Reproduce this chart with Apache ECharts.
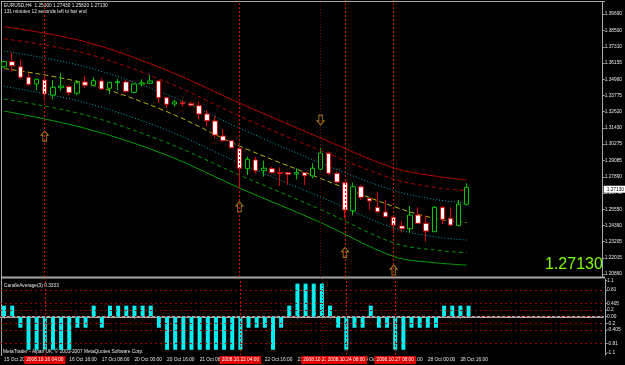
<!DOCTYPE html>
<html>
<head>
<meta charset="utf-8">
<style>
html, body { margin: 0; padding: 0; background: #000; }
#chart { width: 625px; height: 365px; }
</style>
<script src="https://cdn.jsdelivr.net/npm/echarts@6/dist/echarts.min.js"></script>
</head>
<body>
<div id="chart"></div>
<script>
// EURUSD H4, 15 Oct 08:00 .. 28 Oct 2008
var opens = [1.3587, 1.3624, 1.3587, 1.3511, 1.3462, 1.3491, 1.3382, 1.3435, 1.3443, 1.3395,
	1.3477, 1.3453, 1.3484, 1.3431, 1.3471, 1.3477, 1.3402, 1.3462, 1.3467, 1.3484,
	1.3363, 1.3317, 1.3327, 1.3319, 1.3305, 1.3245, 1.3194, 1.3085, 1.3051, 1.2993,
	1.2849, 1.2912, 1.2834, 1.2849, 1.2820, 1.2820, 1.2810, 1.2820, 1.2796, 1.2846,
	1.2960, 1.2815, 1.2747, 1.2544, 1.2718, 1.2634, 1.2569, 1.2535, 1.2497, 1.2434,
	1.2414, 1.2513, 1.2453, 1.2392, 1.2569, 1.2489, 1.2436, 1.2591]
var closes = [1.3624, 1.3595, 1.3511, 1.3460, 1.3496, 1.3390, 1.3438, 1.3448, 1.3399, 1.3471,
	1.3453, 1.3486, 1.3426, 1.3474, 1.3479, 1.3409, 1.3462, 1.3471, 1.3484, 1.3363,
	1.3315, 1.3332, 1.3319, 1.3308, 1.3245, 1.3196, 1.3093, 1.3051, 1.3001, 1.2852,
	1.2917, 1.2834, 1.2852, 1.2820, 1.2815, 1.2808, 1.2820, 1.2798, 1.2852, 1.2960,
	1.2815, 1.2752, 1.2550, 1.2718, 1.2641, 1.2615, 1.2537, 1.2501, 1.2439, 1.2414,
	1.2513, 1.2453, 1.2397, 1.2569, 1.2482, 1.2441, 1.2591, 1.2713]
var lows = [1.3580, 1.3551, 1.3496, 1.3448, 1.3419, 1.3346, 1.3351, 1.3414, 1.3382, 1.3382,
	1.3431, 1.3448, 1.3419, 1.3390, 1.3419, 1.3399, 1.3395, 1.3443, 1.3462, 1.3327,
	1.3286, 1.3298, 1.3298, 1.3298, 1.3206, 1.3158, 1.3069, 1.3044, 1.2996, 1.2718,
	1.2803, 1.2815, 1.2791, 1.2815, 1.2723, 1.2731, 1.2772, 1.2731, 1.2779, 1.2839,
	1.2803, 1.2743, 1.2489, 1.2513, 1.2622, 1.2550, 1.2530, 1.2497, 1.2381, 1.2385,
	1.2385, 1.2448, 1.2320, 1.2392, 1.2448, 1.2434, 1.2434, 1.2582]
var highs = [1.3630, 1.3684, 1.3641, 1.3544, 1.3496, 1.3527, 1.3491, 1.3540, 1.3455, 1.3491,
	1.3520, 1.3511, 1.3503, 1.3474, 1.3500, 1.3491, 1.3467, 1.3496, 1.3527, 1.3491,
	1.3370, 1.3346, 1.3346, 1.3334, 1.3334, 1.3274, 1.3230, 1.3134, 1.3056, 1.3008,
	1.2936, 1.2936, 1.2906, 1.2863, 1.2859, 1.2820, 1.2852, 1.2820, 1.2888, 1.2996,
	1.2972, 1.2827, 1.2754, 1.2747, 1.2731, 1.2634, 1.2678, 1.2622, 1.2506, 1.2472,
	1.2578, 1.2569, 1.2513, 1.2578, 1.2578, 1.2569, 1.2622, 1.2743]

// CandleAverage(3) histogram
var candleAvg = [0.3333, 0.3333, -0.3333, -1, -1, -1, -1, -1, -1, -0.3333,
	-0.3333, 0.3333, -0.3333, 0.3333, 0.3333, 0.3333, 0.3333, 0.3333, 0.3333, -0.3333,
	-1, -1, -1, -1, -1, -1, -1, -1, -1, -1,
	-0.3333, -0.3333, -0.3333, -1, -0.3333, 0.3333, 1, 1, 1, 1,
	0.3333, -0.3333, -1, -0.3333, -0.3333, 0.3333, -0.3333, -0.3333, -1, -1,
	-0.3333, -0.3333, -0.3333, -0.3333, 0.3333, 0.3333, 0.3333, 0.3333]

// envelope lines, read at these bars
var bandBars = [0, 10, 20, 29, 39, 48, 53, 57]
var redOuterUp = [1.3878, 1.3768, 1.3563, 1.3324, 1.3071, 1.2854, 1.2796, 1.2767]
var redInnerUp = [1.3790, 1.3684, 1.3477, 1.3230, 1.2980, 1.2774, 1.2714, 1.2689]
var cyanUp = [1.3701, 1.3587, 1.3386, 1.3143, 1.2890, 1.2691, 1.2627, 1.2598]
var midLine = [1.3574, 1.3467, 1.3263, 1.3013, 1.2778, 1.2575, 1.2489, 1.2458]
var cyanDown = [1.3445, 1.3327, 1.3129, 1.2890, 1.2644, 1.2419, 1.2356, 1.2332]
var greenInnerDown = [1.3353, 1.3238, 1.3038, 1.2803, 1.2553, 1.2311, 1.2260, 1.2240]
var greenOuterDown = [1.3266, 1.3141, 1.2948, 1.2709, 1.2459, 1.2213, 1.2168, 1.2151]

var upArrows = [[5, 1.3085], [29, 1.2574], [42, 1.2242], [48, 1.2115]]
var downArrows = [[39, 1.3201]]

var vLineBars = [5, 29, 39, 42, 48]
var vLineTexts = ['2008.10.16 04:00', '2008.10.22 04:00', '2008.10.23 20:00', '2008.10.24 08:00', '2008.10.27 08:00']

var xTickBars = [0, 8, 12, 16, 20, 24, 28, 32, 36, 40, 44, 48, 52, 56]
var xTickLabels = ['15 Oct 2008', '16 Oct 16:00', '17 Oct 08:00', '20 Oct 00:00', '20 Oct 16:00', '21 Oct 08:00',
	'22 Oct 00:00', '22 Oct 16:00', '23 Oct 08:00', '24 Oct 00:00', '24 Oct 16:00', '27 Oct 08:00',
	'28 Oct 00:00', '28 Oct 16:00']

var priceTicks = [1.20860, 1.22015, 1.23205, 1.24360, 1.25550, 1.26740, 1.27890, 1.29085, 1.30275,
	1.31430, 1.32620, 1.33775, 1.34960, 1.36155, 1.37310, 1.38500, 1.39690]
var indTicks = [1.1, 0.81, 0.405, 0.2, 0, -0.2, -0.405, -0.81, -1.1]
var indTickLabels = ['1.1', '0.81', '0.405', '0.2', '0.00', '-0.2', '-0.405', '-0.81', '-1.1']
var indLevels = [0.81, 0.405, 0.2, 0, -0.2, -0.405, -0.81]

var lastPrice = 1.2713
var slotCount = 74

var categories = []
for (var i = 0; i < slotCount; i++) categories.push(String(i))

var candleData = []
for (var j = 0; j < opens.length; j++) {
	candleData.push([opens[j], closes[j], lows[j], highs[j]])
}

var smallFont = 'Liberation Sans'
var txtColor = '#e6e6e6'
var gray = '#a8a8a8'

function bandSeries(values, color, type, width) {
	return {
		type: 'line',
		xAxisIndex: 0,
		yAxisIndex: 0,
		data: bandBars.map(function (b, k) { return [b, values[k]] }),
		showSymbol: false,
		smooth: 0.35,
		silent: true,
		z: 1,
		lineStyle: { color: color, width: width || 1, type: type },
	}
}

function tickIndex(idx) {
	return xTickBars.indexOf(Number(idx))
}

var chartDom = document.getElementById('chart')
var myChart = echarts.init(chartDom)
var option

option = {
	backgroundColor: '#000',
	animation: false,
	grid: [
		{ left: -1, right: 22, top: 2, height: 275 },
		{ left: -1, right: 22, top: 279, height: 76 },
	],
	xAxis: [
		{
			type: 'category',
			gridIndex: 0,
			data: categories,
			boundaryGap: true,
			axisLine: { show: false },
			axisTick: { show: false },
			axisLabel: { show: false },
		},
		{
			type: 'category',
			gridIndex: 1,
			data: categories,
			boundaryGap: true,
			axisLine: { lineStyle: { color: gray, width: 2 } },
			axisTick: {
				show: true,
				alignWithLabel: true,
				length: 2,
				interval: function (idx) { return tickIndex(idx) >= 0 },
				lineStyle: { color: gray },
			},
			axisLabel: {
				interval: function (idx) { return tickIndex(idx) >= 0 },
				formatter: function (v) { return xTickLabels[tickIndex(v)] || '' },
				align: 'left',
				margin: 2,
				color: txtColor,
				fontSize: 4.8,
				fontFamily: smallFont,
			},
		},
	],
	yAxis: [
		{
			type: 'value',
			gridIndex: 0,
			position: 'right',
			offset: 2,
			min: 1.20643,
			max: 1.40559,
			splitLine: { show: false },
			axisLine: { show: true, lineStyle: { color: gray } },
			axisTick: { show: true, length: 2, customValues: priceTicks, lineStyle: { color: gray } },
			axisLabel: {
				customValues: priceTicks,
				formatter: function (v) { return v.toFixed(5) },
				margin: 2,
				color: txtColor,
				fontSize: 4.8,
				fontFamily: smallFont,
			},
		},
		{
			type: 'value',
			gridIndex: 1,
			position: 'right',
			offset: 2,
			min: -1.157,
			max: 1.139,
			splitLine: { show: false },
			axisLine: { show: true, lineStyle: { color: gray } },
			axisTick: { show: true, length: 2, customValues: indTicks, lineStyle: { color: gray } },
			axisLabel: {
				customValues: indTicks,
				formatter: function (v) {
					var k = indTicks.indexOf(v)
					return k >= 0 ? indTickLabels[k] : ''
				},
				margin: 2,
				color: txtColor,
				fontSize: 4.8,
				fontFamily: smallFont,
			},
		},
	],
	series: [
		bandSeries(redOuterUp, '#b40000', 'solid'),
		bandSeries(redInnerUp, '#b40000', [4, 3]),
		bandSeries(cyanUp, '#00a8b4', [1, 2]),
		bandSeries(midLine, '#b4b400', [5, 3]),
		bandSeries(cyanDown, '#00a8b4', [1, 2]),
		bandSeries(greenInnerDown, '#009600', [4, 3]),
		bandSeries(greenOuterDown, '#00a000', 'solid'),
		{
			name: 'EURUSD,H4',
			type: 'candlestick',
			xAxisIndex: 0,
			yAxisIndex: 0,
			data: candleData,
			barWidth: 5,
			z: 3,
			itemStyle: {
				color: '#000000',
				color0: '#ffffff',
				borderColor: '#00c800',
				borderColor0: '#e00000',
				borderWidth: 1,
			},
			markLine: {
				silent: true,
				symbol: 'none',
				animation: false,
				label: { show: false },
				lineStyle: { color: '#c80000', type: [2, 2], width: 1 },
				data: vLineBars.map(function (b) {
					var item = { xAxis: String(b) }
					if (b === 39) item.lineStyle = { color: '#6a0000', type: [1, 2] }
					return item
				}).concat([
					{
						yAxis: lastPrice,
						lineStyle: { color: 'rgba(0,0,0,0)', width: 0 },
						label: {
							show: true,
							position: 'end',
							distance: 3,
							formatter: lastPrice.toFixed(5),
							backgroundColor: '#ffffff',
							color: '#000',
							fontSize: 4.8,
							fontFamily: smallFont,
							padding: [1, 3],
						},
					},
				]),
			},
		},
		{
			type: 'scatter',
			xAxisIndex: 0,
			yAxisIndex: 0,
			data: upArrows,
			symbol: 'path://M4,0 L8,5 L6,5 L6,12 L2,12 L2,5 L0,5 Z',
			symbolSize: [7, 10],
			silent: true,
			z: 4,
			itemStyle: { color: '#000', borderColor: '#d29b1e', borderWidth: 1 },
		},
		{
			type: 'scatter',
			xAxisIndex: 0,
			yAxisIndex: 0,
			data: downArrows,
			symbol: 'path://M2,0 L6,0 L6,7 L8,7 L4,12 L0,7 L2,7 Z',
			symbolSize: [7, 10],
			silent: true,
			z: 4,
			itemStyle: { color: '#000', borderColor: '#d29b1e', borderWidth: 1 },
		},
		{
			name: 'CandleAverage(3)',
			type: 'bar',
			xAxisIndex: 1,
			yAxisIndex: 1,
			data: candleAvg,
			barWidth: 4,
			z: 3,
			itemStyle: { color: '#00f0f0' },
			markLine: {
				silent: true,
				symbol: 'none',
				animation: false,
				lineStyle: { color: '#a00000', type: [2, 3], width: 1 },
				label: { show: false },
				data: indLevels.map(function (v) { return { yAxis: v } }).concat(
					vLineBars.map(function (b, k) {
						return {
							xAxis: String(b),
							lineStyle: b === 39 ? { color: '#6a0000', type: [1, 2] } : { color: '#c80000', type: [2, 2] },
							label: {
								show: true,
								position: 'start',
								distance: 1,
								formatter: vLineTexts[k],
								backgroundColor: '#e00000',
								color: '#ffffff',
								fontSize: 4.8,
								fontFamily: smallFont,
								padding: [1.5, 2],
							},
						}
					})
				),
			},
		},
	],
	graphic: [
		{ type: 'line', silent: true, shape: { x1: 1.5, y1: 1, x2: 1.5, y2: 356 }, style: { stroke: gray, lineWidth: 1 } },
		{ type: 'line', silent: true, shape: { x1: 1, y1: 1.5, x2: 605, y2: 1.5 }, style: { stroke: gray, lineWidth: 1 } },
		{ type: 'line', silent: true, shape: { x1: 1, y1: 277.5, x2: 605, y2: 277.5 }, style: { stroke: gray, lineWidth: 2 } },
		{ type: 'text', silent: true, left: 4, top: 3, style: { text: 'EURUSD,H4  1.25900 1.27430 1.25820 1.27130', fill: txtColor, font: '4.8px ' + smallFont } },
		{ type: 'text', silent: true, left: 4, top: 9, style: { text: '131 minutes 12 seconds left to bar end', fill: txtColor, font: '4.8px ' + smallFont } },
		{ type: 'text', silent: true, left: 545, top: 257, style: { text: '1.27130', fill: '#80ff00', font: '16px ' + smallFont } },
		{ type: 'text', silent: true, left: 4, top: 283, style: { text: 'CandleAverage(3) 0.3333', fill: txtColor, font: '4.8px ' + smallFont } },
		{ type: 'text', silent: true, left: 3, top: 349, style: { text: 'MetaTrader - Alpari UK, \u00a9 2001-2007 MetaQuotes Software Corp.', fill: txtColor, font: '4.8px ' + smallFont } },
	],
}

option && myChart.setOption(option)
</script>
</body>
</html>
